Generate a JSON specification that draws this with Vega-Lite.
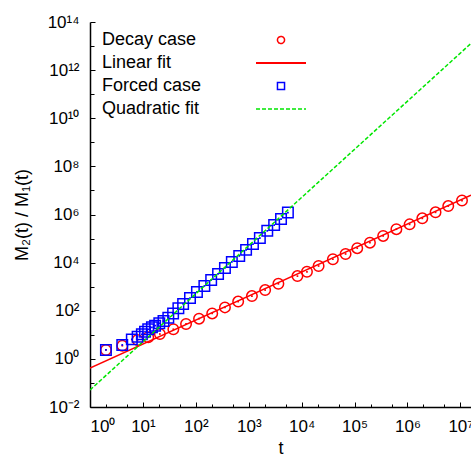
{
  "$schema": "https://vega.github.io/schema/vega-lite/v6.json",
  "autosize": "none",
  "padding": {"left": 90, "top": 22, "right": 0, "bottom": 50},
  "width": 381,
  "height": 385,
  "background": "white",
  "config": {
    "view": {"stroke": null},
    "font": "Liberation Sans",
    "axis": {
      "labelFont": "Liberation Sans", "titleFont": "Liberation Sans",
      "labelFontSize": 17, "titleFontSize": 18, "titleFontWeight": "normal",
      "labelColor": "#000", "titleColor": "#000", "tickColor": "#000",
      "domainColor": "#000", "domainWidth": 1.5, "grid": false, "labelOverlap": false
    }
  },
  "datasets": {
    "decay": [
      {"t": 2.0, "ratio": 2.34, "series": "Decay case"},
      {"t": 4.08, "ratio": 3.53, "series": "Decay case"},
      {"t": 7.9, "ratio": 6.1, "series": "Decay case"},
      {"t": 12.6, "ratio": 7.9, "series": "Decay case"},
      {"t": 20.9, "ratio": 10.8, "series": "Decay case"},
      {"t": 37.6, "ratio": 17.0, "series": "Decay case"},
      {"t": 65.3, "ratio": 28.2, "series": "Decay case"},
      {"t": 115, "ratio": 46.8, "series": "Decay case"},
      {"t": 204, "ratio": 77.6, "series": "Decay case"},
      {"t": 355, "ratio": 138, "series": "Decay case"},
      {"t": 631, "ratio": 240, "series": "Decay case"},
      {"t": 1148, "ratio": 407, "series": "Decay case"},
      {"t": 2042, "ratio": 724, "series": "Decay case"},
      {"t": 3631, "ratio": 1318, "series": "Decay case"},
      {"t": 8318, "ratio": 2754, "series": "Decay case"},
      {"t": 12589, "ratio": 4169, "series": "Decay case"},
      {"t": 20893, "ratio": 7244, "series": "Decay case"},
      {"t": 38905, "ratio": 13804, "series": "Decay case"},
      {"t": 67608, "ratio": 22909, "series": "Decay case"},
      {"t": 112202, "ratio": 39811, "series": "Decay case"},
      {"t": 194984, "ratio": 67608, "series": "Decay case"},
      {"t": 346737, "ratio": 128825, "series": "Decay case"},
      {"t": 616595, "ratio": 245471, "series": "Decay case"},
      {"t": 1096478, "ratio": 389045, "series": "Decay case"},
      {"t": 1905461, "ratio": 691831, "series": "Decay case"},
      {"t": 3388442, "ratio": 1230269, "series": "Decay case"},
      {"t": 5888437, "ratio": 2238721, "series": "Decay case"},
      {"t": 10715193, "ratio": 3801894, "series": "Decay case"}
    ],
    "forced": [
      {"t": 2.0, "ratio": 2.34, "series": "Forced case"},
      {"t": 4.07, "ratio": 3.8, "series": "Forced case"},
      {"t": 6.17, "ratio": 6.46, "series": "Forced case"},
      {"t": 7.94, "ratio": 8.32, "series": "Forced case"},
      {"t": 9.55, "ratio": 10.5, "series": "Forced case"},
      {"t": 10.96, "ratio": 13.5, "series": "Forced case"},
      {"t": 12.6, "ratio": 17.0, "series": "Forced case"},
      {"t": 14.8, "ratio": 20.4, "series": "Forced case"},
      {"t": 17.0, "ratio": 24.0, "series": "Forced case"},
      {"t": 20.4, "ratio": 30.2, "series": "Forced case"},
      {"t": 24.5, "ratio": 37.2, "series": "Forced case"},
      {"t": 30.2, "ratio": 51.3, "series": "Forced case"},
      {"t": 37.2, "ratio": 77.6, "series": "Forced case"},
      {"t": 46.8, "ratio": 126, "series": "Forced case"},
      {"t": 57.5, "ratio": 191, "series": "Forced case"},
      {"t": 77.6, "ratio": 339, "series": "Forced case"},
      {"t": 105, "ratio": 603, "series": "Forced case"},
      {"t": 145, "ratio": 1072, "series": "Forced case"},
      {"t": 195, "ratio": 1905, "series": "Forced case"},
      {"t": 263, "ratio": 3388, "series": "Forced case"},
      {"t": 355, "ratio": 6026, "series": "Forced case"},
      {"t": 479, "ratio": 10715, "series": "Forced case"},
      {"t": 661, "ratio": 19055, "series": "Forced case"},
      {"t": 891, "ratio": 33884, "series": "Forced case"},
      {"t": 1202, "ratio": 58884, "series": "Forced case"},
      {"t": 1622, "ratio": 104713, "series": "Forced case"},
      {"t": 2239, "ratio": 208930, "series": "Forced case"},
      {"t": 3020, "ratio": 363078, "series": "Forced case"},
      {"t": 4074, "ratio": 645654, "series": "Forced case"},
      {"t": 5495, "ratio": 1202264, "series": "Forced case"}
    ],
    "linfit": [
      {"t": 1, "ratio": 0.41, "series": "Linear fit"},
      {"t": 15848932, "ratio": 6400000, "series": "Linear fit"}
    ],
    "quadfit": [
      {"t": 1, "ratio": 0.051, "series": "Quadratic fit"},
      {"t": 15848932, "ratio": 12900000000000, "series": "Quadratic fit"}
    ]
  },
  "encoding": {
    "x": {
      "field": "t", "type": "quantitative",
      "scale": {"type": "log", "domain": [1, 15848932], "nice": false},
      "axis": {
        "title": "t", "titlePadding": 3,
        "values": [1, 2, 5, 10, 20, 50, 100, 200, 500, 1000, 2000, 5000, 10000, 20000, 50000, 100000, 200000, 500000, 1000000, 2000000, 5000000, 10000000],
        "labelExpr": "abs(log(datum.value)/LN10 - round(log(datum.value)/LN10)) < 1e-6 ? '10' + ['⁰','¹','²','³','⁴','⁵','⁶','⁷','⁸','⁹'][round(log(datum.value)/LN10)] : ''",
        "tickSize": {"condition": {"test": "abs(log(datum.value)/LN10 - round(log(datum.value)/LN10)) < 1e-6", "value": -5}, "value": -3},
        "labelPadding": 16
      }
    },
    "y": {
      "field": "ratio", "type": "quantitative",
      "scale": {"type": "log", "domain": [0.01, 100000000000000], "nice": false},
      "axis": {
        "title": "M₂(t) / M₁(t)", "titlePadding": 16,
        "values": [0.01, 0.1, 1, 10, 100, 1000, 10000, 100000, 1000000, 10000000, 100000000, 1000000000, 10000000000, 100000000000, 1000000000000, 10000000000000, 100000000000000],
        "labelExpr": "round(log(datum.value)/LN10) % 2 == 0 ? '10' + (round(log(datum.value)/LN10) < 0 ? '⁻' : '') + (abs(round(log(datum.value)/LN10)) >= 10 ? '¹' : '') + ['⁰','¹','²','³','⁴','⁵','⁶','⁷','⁸','⁹'][abs(round(log(datum.value)/LN10)) % 10] : ''",
        "tickSize": {"condition": {"test": "round(log(datum.value)/LN10) % 2 == 0", "value": -5}, "value": -4},
        "labelPadding": 16
      }
    },
    "color": {
      "field": "series", "type": "nominal",
      "scale": {"domain": ["Decay case", "Linear fit", "Forced case", "Quadratic fit"], "range": ["#ff0000", "#ff0000", "#0000ff", "#00e600"]},
      "legend": {
        "title": null, "orient": "none", "legendX": 182, "legendY": 9,
        "labelFont": "Liberation Sans", "labelFontSize": 18, "labelColor": "#000", "labelLimit": 0,
        "symbolOffset": 0, "labelOffset": -188, "rowPadding": 5, "padding": 0,
        "symbolSize": 64, "symbolStrokeWidth": 1.5, "symbolFillColor": "transparent",
        "encode": {
          "symbols": {
            "update": {
              "shape": {"signal": "datum.value == 'Linear fit' || datum.value == 'Quadratic fit' ? 'stroke' : datum.value == 'Forced case' ? 'square' : 'circle'"},
              "size": {"signal": "datum.value == 'Linear fit' || datum.value == 'Quadratic fit' ? 2500 : 50"},
              "strokeDash": {"signal": "datum.value == 'Quadratic fit' ? [4, 2] : [1, 0]"},
              "strokeWidth": {"signal": "datum.value == 'Linear fit' ? 2 : 1.5"},
              "fill": {"value": "transparent"},
              "stroke": {"scale": "color", "field": "value"},
              "opacity": {"value": 1}
            }
          }
        }
      }
    }
  },
  "layer": [
    {"data": {"name": "decay"}, "mark": {"type": "point", "shape": "circle", "filled": false, "size": 110, "strokeWidth": 1.5, "opacity": 1}},
    {"data": {"name": "decay"}, "mark": {"type": "square", "size": 3, "opacity": 1, "color": "#ff0000"}, "encoding": {"color": {"value": "#ff0000"}}},
    {"data": {"name": "linfit"}, "mark": {"type": "line", "strokeWidth": 1.5, "clip": true}},
    {"data": {"name": "forced"}, "mark": {"type": "point", "shape": "square", "filled": false, "size": 110, "strokeWidth": 1.5, "opacity": 1}},
    {"data": {"name": "forced"}, "mark": {"type": "square", "size": 3, "opacity": 1, "color": "#0000ff"}, "encoding": {"color": {"value": "#0000ff"}}},
    {"data": {"name": "quadfit"}, "mark": {"type": "line", "strokeWidth": 1.5, "strokeDash": [4, 2], "clip": true}},
    {"mark": {"type": "rule", "color": "#000", "strokeWidth": 1.5}, "encoding": {"y": {"datum": 100000000000000}, "color": {"value": "#000"}}}
  ]
}
